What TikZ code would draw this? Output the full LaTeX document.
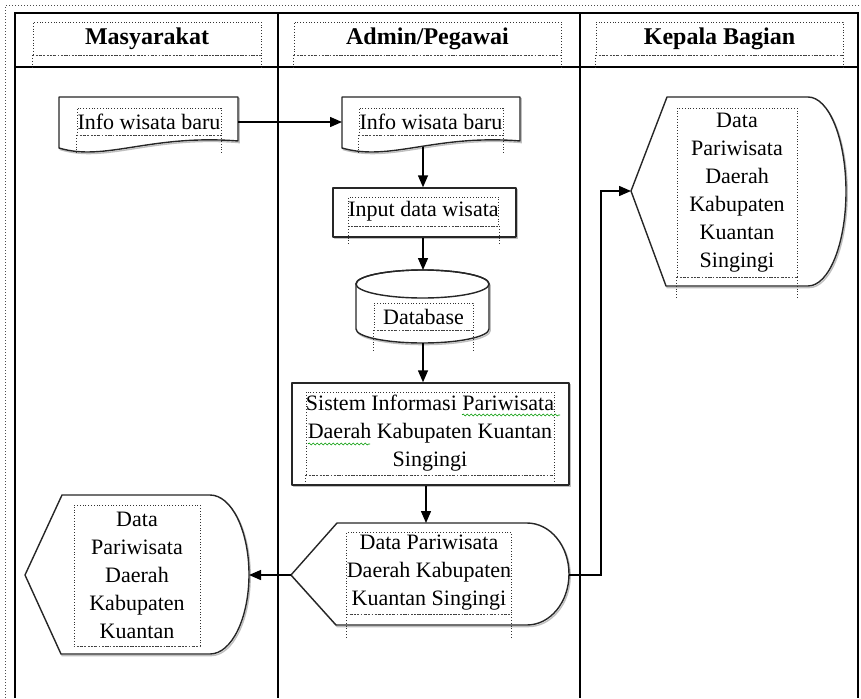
\documentclass[tikz,border=0pt]{standalone}
\usepackage{fontspec}
\setmainfont{Liberation Serif}
\usetikzlibrary{arrows.meta,decorations.pathmorphing}
\begin{document}
\begin{tikzpicture}[x=1pt,y=-1pt,
 tbl/.style={line width=1.2pt, draw=black},
 shp/.style={draw=black!85, line width=1.4pt, fill=white, line join=round,
   preaction={draw=gray!50, line width=1.4pt, transform canvas={shift={(1.2pt,-1.6pt)}}}},
 tbox/.style={draw=black!80, dotted, line width=0.8pt, inner sep=0pt, align=center,
   font=\fontsize{22}{28}\selectfont},
 ttl/.style={tbox, font=\fontsize{24}{28}\selectfont\bfseries},
 stub/.style={draw=black!80, dotted, line width=0.8pt},
 bedge/.style={draw=black!70, dotted, line width=1.6pt},
 arr/.style={draw=black, line width=1.4pt, -{Triangle[length=12pt,width=10pt]}},
 spell/.style={draw=green!60!black, line width=0.6pt, decorate,
   decoration={snake, amplitude=1pt, segment length=4pt}}
]
\useasboundingbox (0,0) rectangle (861,698);

% outer dotted frame
\draw[dotted, line width=1pt, black!70] (5,698) -- (5,6) -- (861,6);

% swimlane table
\draw[tbl] (15,698) -- (15,13) -- (858,13) -- (858,698);
\draw[tbl] (15,67) -- (858,67);
\draw[tbl] (278,13) -- (278,698);
\draw[tbl] (580,13) -- (580,698);

% lane titles
\node[ttl, minimum width=228pt, minimum height=33pt] (tMas) at (147,38.5) {Masyarakat};
\node[ttl, minimum width=267pt, minimum height=33pt] (tAdm) at (427.5,38.5) {Admin/Pegawai};
\node[ttl, minimum width=247pt, minimum height=33pt] (tKep) at (719.5,38.5) {Kepala Bagian};
\foreach \n in {tMas,tAdm,tKep}{
  \draw[bedge] (\n.south west) -- (\n.south east);
  \draw[stub] (\n.south west) -- ++(0,12);
  \draw[stub] (\n.south east) -- ++(0,12);
}

% ---- shapes ----
% document (Masyarakat)
\path[shp] (59,97) -- (238,97) -- (238,141) .. controls (150,134) and (105,162) .. (59,148) -- cycle;
\coordinate (infoM-out) at (238,122);
% document (Admin)
\path[shp] (342,97) -- (520,97) -- (520,141) .. controls (435,134) and (390,162) .. (342,148) -- cycle;
\coordinate (infoA-in) at (342,122);
\coordinate (infoA-out) at (423,147);
% process: input
\node[shp, minimum width=183pt, minimum height=49pt, inner sep=0pt] (inputS) at (424.5,212.5) {};
% database cylinder
\path[shp] (356,284) -- (356,329) arc[start angle=180,end angle=360,x radius=66.5pt,y radius=14pt]
  -- (489,284) arc[start angle=0,end angle=180,x radius=66.5pt,y radius=14pt] -- cycle;
\draw[draw=black!85, line width=1.4pt] (422.5,284) ellipse [x radius=66.5pt, y radius=14pt];
\coordinate (db-top) at (423,270);
\coordinate (db-bot) at (423,343);
% process: sistem
\node[shp, minimum width=277pt, minimum height=102pt, inner sep=0pt] (sistem) at (430.5,434) {};
% display (Admin output)
\path[shp] (291,575) -- (337,523) -- (527,523) arc[start angle=90,end angle=-90,x radius=42pt,y radius=51pt]
  -- (336,625) -- cycle;
\coordinate (out-top) at (426,523);
\coordinate (out-left) at (291,575);
\coordinate (out-right) at (569,575);
% display (Masyarakat)
\path[shp] (25,575) -- (62,495) -- (210,495) arc[start angle=90,end angle=-90,x radius=39pt,y radius=79.5pt]
  -- (61,654) -- cycle;
\coordinate (dispM-in) at (249,575);
% display (Kepala Bagian)
\path[shp] (631,191) -- (667,97) -- (808,97) arc[start angle=90,end angle=-90,x radius=38pt,y radius=94.5pt]
  -- (666,286) -- cycle;
\coordinate (dispK-in) at (631,191);
\coordinate (bend) at (601,191);

% ---- text boxes ----
\node[tbox, minimum width=144pt, minimum height=27pt] (xInfoM) at (149,121.5) {Info wisata baru};
\node[tbox, minimum width=144pt, minimum height=27pt] (xInfoA) at (431,121.5) {Info wisata baru};
\node[tbox, minimum width=149pt, minimum height=29pt] (xInput) at (423.5,211.5) {Input data wisata};
\node[tbox, minimum width=99pt, minimum height=27pt] (xDb) at (423.5,316.5) {Database};
\node[tbox, minimum width=246pt, minimum height=83pt] (xSis) at (430,433.5)
  {Sistem Informasi Pariwisata\\Daerah Kabupaten Kuantan\\Singingi};
\node[tbox, minimum width=162pt, minimum height=82pt] (xOut) at (429,573)
  {Data Pariwisata\\Daerah Kabupaten\\Kuantan Singingi};
\node[tbox, minimum width=126pt, minimum height=141pt] (xDispM) at (137,575.5)
  {Data\\Pariwisata\\Daerah\\Kabupaten\\Kuantan};
\node[tbox, minimum width=120pt, minimum height=169pt] (xDispK) at (737,192.5)
  {Data\\Pariwisata\\Daerah\\Kabupaten\\Kuantan\\Singingi};

\foreach \n/\l in {xInfoM/19,xInfoA/19,xInput/18,xDb/20,xSis/9,xOut/24,xDispK/21}{
  \draw[bedge] (\n.south west) -- (\n.south east);
  \draw[stub] (\n.south west) -- ++(0,\l);
  \draw[stub] (\n.south east) -- ++(0,\l);
}
\draw[bedge] (xDispM.south west) -- (xDispM.south east);

% spell-check squiggles
\draw[spell] (462,415) -- (560,415);
\draw[spell] (308,444) -- (370,444);

% ---- connectors ----
\draw[arr] (infoM-out) -- (infoA-in);
\draw[arr] (infoA-out) -- (infoA-out |- inputS.north);
\draw[arr] (db-top |- inputS.south) -- (db-top);
\draw[arr] (db-bot) -- (db-bot |- sistem.north);
\draw[arr] (out-top |- sistem.south) -- (out-top);
\draw[arr] (out-left) -- (dispM-in);
\draw[arr] (out-right) -| (bend) -- (dispK-in);
\end{tikzpicture}
\end{document}
